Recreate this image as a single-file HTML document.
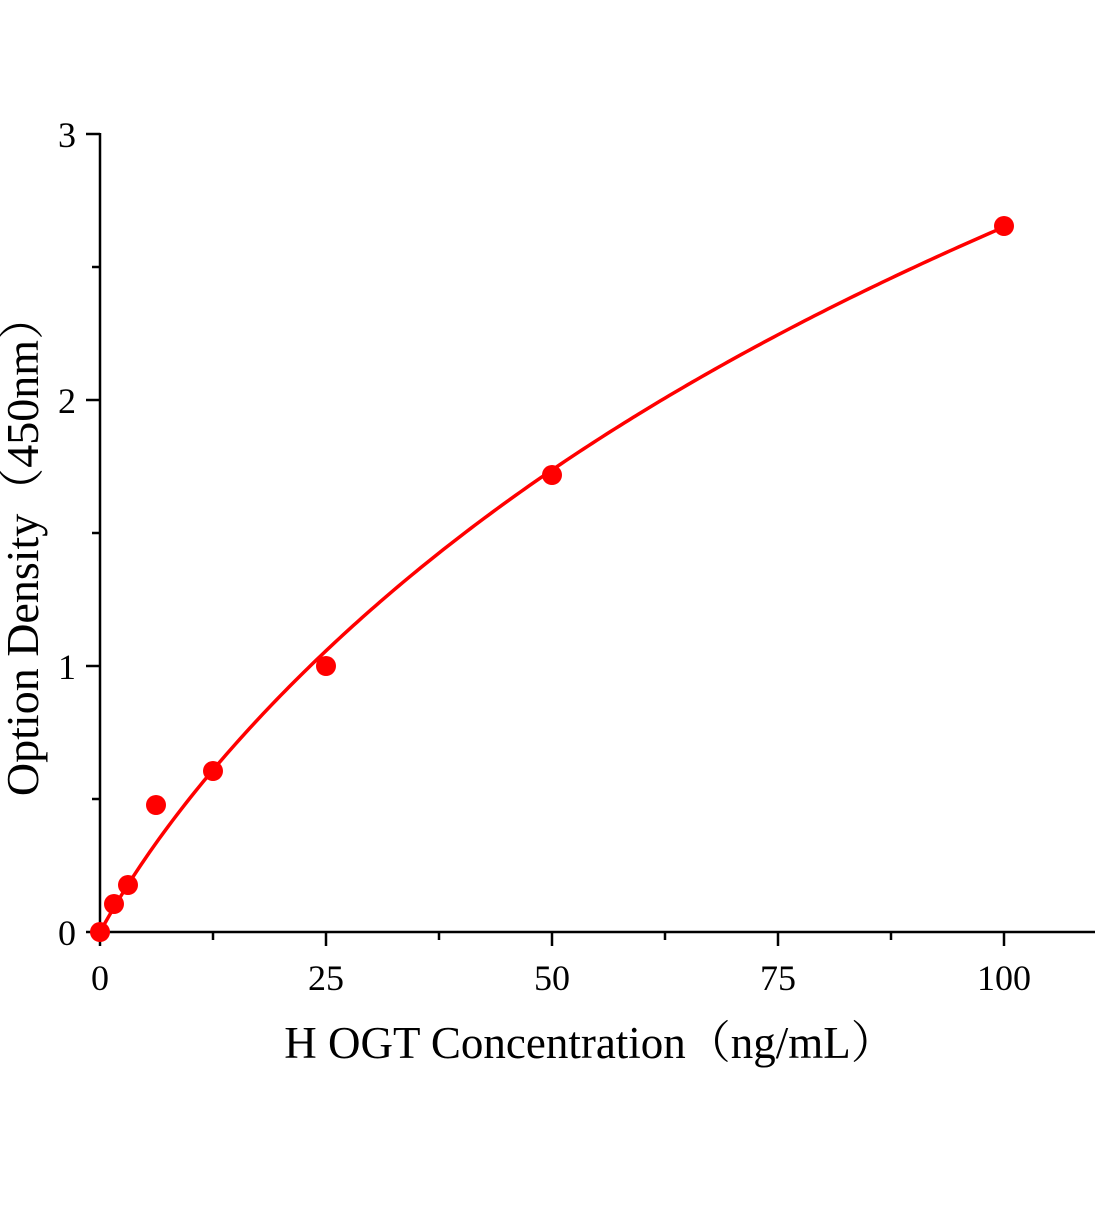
<!DOCTYPE html>
<html><head><meta charset="utf-8"><style>body{margin:0;background:#fff}</style></head>
<body>
<svg id="s" width="1104" height="1200" xmlns="http://www.w3.org/2000/svg" font-family="Liberation Serif, Noto Serif CJK SC, serif">
<rect width="1104" height="1200" fill="#fff"/>
<g stroke="#000" stroke-width="2.5" fill="none">
<line x1="100" y1="133" x2="100" y2="933"/>
<line x1="99" y1="932" x2="1095" y2="932"/>
<line x1="86" y1="932" x2="100" y2="932"/><line x1="92" y1="799" x2="100" y2="799"/>
<line x1="86" y1="666" x2="100" y2="666"/><line x1="92" y1="533" x2="100" y2="533"/>
<line x1="86" y1="400" x2="100" y2="400"/><line x1="92" y1="267" x2="100" y2="267"/>
<line x1="86" y1="134" x2="100" y2="134"/>
<line x1="100" y1="932" x2="100" y2="946"/><line x1="213" y1="932" x2="213" y2="940"/>
<line x1="326" y1="932" x2="326" y2="946"/><line x1="439" y1="932" x2="439" y2="940"/>
<line x1="552" y1="932" x2="552" y2="946"/><line x1="665" y1="932" x2="665" y2="940"/>
<line x1="778" y1="932" x2="778" y2="946"/><line x1="891" y1="932" x2="891" y2="940"/>
<line x1="1004" y1="932" x2="1004" y2="946"/>
</g>
<g font-size="36" fill="#000">
<text x="76" y="945" text-anchor="end">0</text>
<text x="76" y="679" text-anchor="end">1</text>
<text x="76" y="413" text-anchor="end">2</text>
<text x="76" y="147" text-anchor="end">3</text>
<text x="100" y="990" text-anchor="middle">0</text>
<text x="326" y="990" text-anchor="middle">25</text>
<text x="552" y="990" text-anchor="middle">50</text>
<text x="778" y="990" text-anchor="middle">75</text>
<text x="1004" y="990" text-anchor="middle">100</text>
</g>
<text x="590" y="1058" font-size="45" text-anchor="middle">H OGT Concentration（ng/mL）</text>
<text transform="translate(38,545) rotate(-90)" font-size="46" text-anchor="middle">Option Density（450nm）</text>
<path id="c" fill="none" stroke="#f00" stroke-width="3.5"/>
<g fill="#f00">
<circle cx="100" cy="932" r="10"/><circle cx="114" cy="904" r="10"/><circle cx="128" cy="885" r="10"/>
<circle cx="156" cy="805" r="10"/><circle cx="213" cy="771" r="10"/><circle cx="326" cy="666" r="10"/>
<circle cx="552" cy="475" r="10"/><circle cx="1004" cy="226" r="10"/>
</g>
</svg>
<script>
var d="";
for(var x=0;x<=100.001;x+=0.5){var y=1.994*Math.log(1+x/36)*(1+0.12*Math.exp(-x/8));
d+=(x==0?"M":" L")+(100+x*9.04).toFixed(2)+","+(932-y*266).toFixed(2);}
document.getElementById("c").setAttribute("d",d);
</script>
</body></html>
